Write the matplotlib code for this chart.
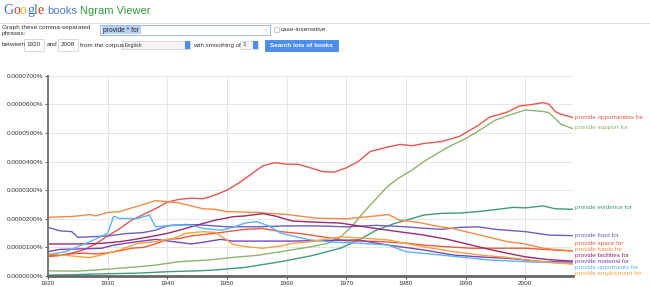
import matplotlib
matplotlib.use("Agg")
import matplotlib.pyplot as plt
from matplotlib.patches import Rectangle

plt.rcParams['font.family'] = ['Liberation Sans', 'DejaVu Sans']

W, H = 650, 287

# ngram values, in units of 0.0000001 %
opportunities_years = [1920, 1922, 1924, 1926, 1928, 1930, 1932, 1934, 1936, 1938, 1940, 1942, 1944, 1946, 1948,
                       1950, 1952, 1954, 1956, 1958, 1960, 1962, 1964, 1966, 1968, 1970, 1972, 1974, 1977, 1979,
                       1981, 1983, 1986, 1989, 1992, 1994, 1997, 1999, 2001, 2003, 2004, 2005, 2006, 2008]
opportunities_vals = [70, 72, 80, 92, 112, 140, 165, 195, 215, 235, 258, 268, 272, 270, 283,
                      300, 325, 355, 385, 396, 391, 390, 378, 365, 363, 378, 400, 435, 451, 460,
                      455, 463, 470, 488, 525, 555, 573, 594, 599, 606, 600, 575, 565, 554]

support_years = [1920, 1925, 1930, 1935, 1938, 1942, 1947, 1951, 1955, 1959, 1964, 1967, 1969, 1971, 1973,
                 1975, 1977, 1979, 1981, 1983, 1985, 1987, 1990, 1992, 1995, 1997, 2000, 2003, 2004, 2005,
                 2006, 2008]
support_vals = [18, 17, 24, 32, 38, 50, 56, 65, 72, 85, 102, 115, 135, 175, 225,
                270, 315, 345, 370, 400, 425, 450, 480, 505, 545, 560, 580, 575, 570, 550,
                530, 515]

evidence_years = [1920, 1925, 1930, 1935, 1940, 1945, 1948, 1953, 1959, 1964, 1969, 1972, 1975, 1978, 1980,
                  1983, 1986, 1989, 1992, 1995, 1998, 2000, 2003, 2005, 2008]
evidence_vals = [3, 5, 8, 10, 15, 18, 21, 30, 50, 70, 97, 125, 160, 183, 195,
                 213, 219, 220, 225, 232, 240, 238, 245, 235, 233]

food_years = [1920, 1922, 1924, 1925, 1927, 1930, 1933, 1936, 1938, 1940, 1943, 1946, 1950, 1955, 1960,
              1965, 1970, 1975, 1980, 1983, 1986, 1989, 1992, 1995, 2000, 2004, 2008]
food_vals = [170, 158, 155, 135, 137, 140, 148, 152, 160, 175, 180, 178, 172, 172, 175,
             175, 172, 177, 172, 167, 163, 170, 172, 163, 155, 143, 141]

space_years = [1920, 1922, 1924, 1926, 1928, 1930, 1932, 1934, 1936, 1938, 1940, 1942, 1944, 1946, 1948,
               1950, 1953, 1956, 1959, 1962, 1966, 1970, 1975, 1980, 1983, 1987, 1991, 1995, 2000, 2004, 2008]
space_vals = [68, 72, 78, 80, 77, 81, 88, 97, 100, 112, 128, 131, 140, 145, 149,
              155, 163, 166, 155, 149, 137, 123, 121, 115, 108, 102, 97, 97, 97, 92, 87]

funds_years = [1920, 1922, 1924, 1926, 1927, 1928, 1930, 1932, 1934, 1936, 1938, 1940, 1942, 1944, 1946,
               1948, 1950, 1955, 1960, 1965, 1970, 1975, 1977, 1979, 1982, 1985, 1988, 1991, 1994, 1997,
               2000, 2003, 2008]
funds_vals = [205, 207, 208, 212, 215, 210, 222, 225, 238, 250, 263, 260, 255, 245, 235,
              233, 225, 222, 215, 202, 200, 210, 215, 195, 188, 175, 165, 150, 135, 120,
              112, 97, 87]

facilities_years = [1920, 1925, 1929, 1932, 1934, 1937, 1940, 1942, 1945, 1948, 1951, 1953, 1956, 1958, 1961,
                    1965, 1969, 1973, 1977, 1983, 1987, 1991, 1995, 2000, 2004, 2008]
facilities_vals = [112, 112, 114, 120, 126, 137, 149, 160, 178, 195, 207, 210, 218, 210, 192,
                   188, 185, 172, 160, 143, 128, 108, 88, 67, 57, 52]

material_years = [1920, 1922, 1926, 1929, 1931, 1935, 1938, 1941, 1944, 1946, 1949, 1951, 1955, 1961, 1966,
                  1972, 1977, 1983, 1988, 1993, 1997, 2003, 2008]
material_vals = [85, 93, 95, 97, 108, 120, 128, 120, 112, 118, 128, 122, 122, 122, 124,
                 126, 108, 91, 73, 66, 62, 50, 49]

opportunity_years = [1920, 1923, 1927, 1930, 1931, 1932, 1935, 1937, 1938, 1941, 1944, 1946, 1949, 1951, 1953,
                     1955, 1957, 1959, 1962, 1964, 1968, 1972, 1977, 1980, 1986, 1994, 2000, 2008]
opportunity_vals = [75, 85, 120, 149, 209, 201, 201, 213, 172, 178, 178, 166, 160, 170, 185,
                    190, 175, 150, 135, 126, 118, 115, 108, 85, 73, 56, 50, 44]

employment_years = [1920, 1923, 1925, 1927, 1930, 1932, 1935, 1938, 1941, 1943, 1946, 1948, 1950, 1951, 1953,
                    1956, 1959, 1961, 1964, 1969, 1973, 1977, 1983, 1988, 1993, 1997, 2002, 2008]
employment_vals = [77, 72, 68, 64, 79, 91, 114, 120, 131, 149, 155, 152, 126, 110, 103,
                   97, 105, 114, 120, 137, 132, 126, 102, 85, 72, 65, 52, 41]

series_names = ["provide opportunities for", "provide support for", "provide evidence for",
                "provide food for", "provide space for", "provide funds for",
                "provide facilities for", "provide material for", "provide opportunity for",
                "provide employment for"]
series_years = [opportunities_years, support_years, evidence_years, food_years, space_years,
                funds_years, facilities_years, material_years, opportunity_years, employment_years]
series_vals = [opportunities_vals, support_vals, evidence_vals, food_vals, space_vals,
               funds_vals, facilities_vals, material_vals, opportunity_vals, employment_vals]
series_colors = ["#e8554e", "#8db46c", "#3c9d78", "#6b5fc5", "#f05a3c",
                 "#f28a45", "#9b2b6b", "#7a45b8", "#5cb3f5", "#f5a23c"]
# where the right-hand labels sit (pixel rows of the screenshot)
label_rows = [117, 128, 208, 235, 243, 249, 255, 261, 267, 273]

year_ticks = [1920, 1930, 1940, 1950, 1960, 1970, 1980, 1990, 2000]
value_ticks = [0, 100, 200, 300, 400, 500, 600, 700]


def fx(x):
    return x / W


def fy(y):
    return 1 - y / H


def box(x0, y0, x1, y1, **kw):
    fig.add_artist(Rectangle((fx(x0), fy(y1)), (x1 - x0) / W, (y1 - y0) / H,
                             transform=fig.transFigure, **kw))


fig = plt.figure(figsize=(6.5, 2.87), dpi=100)

# ---- header ----
renderer = fig.canvas.get_renderer()
x = 3
for ch, col in zip("Google", ["#3d6fd8", "#d8392b", "#f2b51a", "#3d6fd8", "#2f9e44", "#d8392b"]):
    t = fig.text(fx(x), fy(14), ch, color=col, fontsize=10, family='Liberation Serif', va='baseline')
    x += t.get_window_extent(renderer).width
fig.text(fx(47), fy(14), "books", color="#4c7bd0", fontsize=8, va='baseline')
fig.text(fx(80), fy(14), "Ngram Viewer", color="#2e9e3e", fontsize=8, va='baseline')
fig.add_artist(plt.Line2D([0, 1], [fy(22.5), fy(22.5)], transform=fig.transFigure, color="#dddddd", lw=0.7))

small = dict(fontsize=4.6, color="#333333", va='center')
fig.text(fx(2), fy(28), "Graph these comma-separated", **small)
fig.text(fx(2), fy(34), "phrases:", **small)
box(100, 25, 270, 35, facecolor="white", edgecolor="#8aaee8", lw=0.6)
box(102, 26.5, 141, 33.5, facecolor="#b6d3f7", edgecolor="none")
fig.text(fx(103), fy(30), "provide * for", fontsize=4.8, color="#222222", va='center')
fig.text(fx(265), fy(30), "v", fontsize=3, color="#aaaaaa", va='center')
box(274, 27, 279, 32, facecolor="white", edgecolor="#bbbbbb", lw=0.5)
fig.text(fx(281), fy(29.5), "case-insensitive", **small)

fig.text(fx(2), fy(45), "between", **small)
box(24, 39.5, 44, 50.5, facecolor="white", edgecolor="#cccccc", lw=0.5)
fig.text(fx(34), fy(45), "1920", fontsize=4.6, color="#333333", va='center', ha='center')
fig.text(fx(47), fy(45), "and", **small)
box(58, 39.5, 78, 50.5, facecolor="white", edgecolor="#cccccc", lw=0.5)
fig.text(fx(68), fy(45), "2008", fontsize=4.6, color="#333333", va='center', ha='center')
fig.text(fx(80), fy(45), "from the corpus", **small)
box(122, 41, 190, 49, facecolor="#f4f4f4", edgecolor="#cccccc", lw=0.5)
fig.text(fx(125), fy(45), "English", fontsize=3.8, color="#333333", va='center')
box(185, 41, 190, 49, facecolor="#4a8ef0", edgecolor="none")
fig.text(fx(193), fy(45), "with smoothing of", fontsize=4.4, color="#333333", va='center')
box(240, 41, 258, 49, facecolor="#f4f4f4", edgecolor="#cccccc", lw=0.5)
fig.text(fx(243), fy(45), "3", fontsize=3.8, color="#333333", va='center')
box(253, 41, 258, 49, facecolor="#4a8ef0", edgecolor="none")
box(265, 40, 338, 50.5, facecolor="#4a8ef0", edgecolor="#3a78d8", lw=0.5)
fig.text(fx(301.5), fy(45.2), "Search lots of books", fontsize=4.6, color="white", weight='bold',
         va='center', ha='center')

# ---- chart ----
ax = fig.add_axes([fx(48), fy(276), (573 - 48) / W, (276 - 75.7) / H])
for name, yrs, vals, col in zip(series_names, series_years, series_vals, series_colors):
    ax.plot(yrs, vals, color=col, lw=1.0, solid_joinstyle='round')

ax.set_xlim(1920, 2008)
ax.set_ylim(0, 700)
ax.set_xticks(year_ticks)
ax.set_xticklabels([str(y) for y in year_ticks])
ax.set_yticks(value_ticks)
ax.set_yticklabels(["%.7f%%" % (v * 1e-7) for v in value_ticks])
ax.tick_params(labelsize=4.6, colors="#333333", length=2, width=0.6, pad=1.5)
ax.grid(True, color="#e6e6e6", lw=0.7)
ax.set_axisbelow(True)
for s in ["top", "right"]:
    ax.spines[s].set_visible(False)
ax.spines["left"].set_color("#777777")
ax.spines["left"].set_linewidth(1.4)
ax.spines["bottom"].set_color("#666666")
ax.spines["bottom"].set_linewidth(2.0)

for name, col, row in zip(series_names, series_colors, label_rows):
    fig.text(fx(575), fy(row), name, color=col, fontsize=4.6, va='center')

fig.savefig("out.png", dpi=100)
